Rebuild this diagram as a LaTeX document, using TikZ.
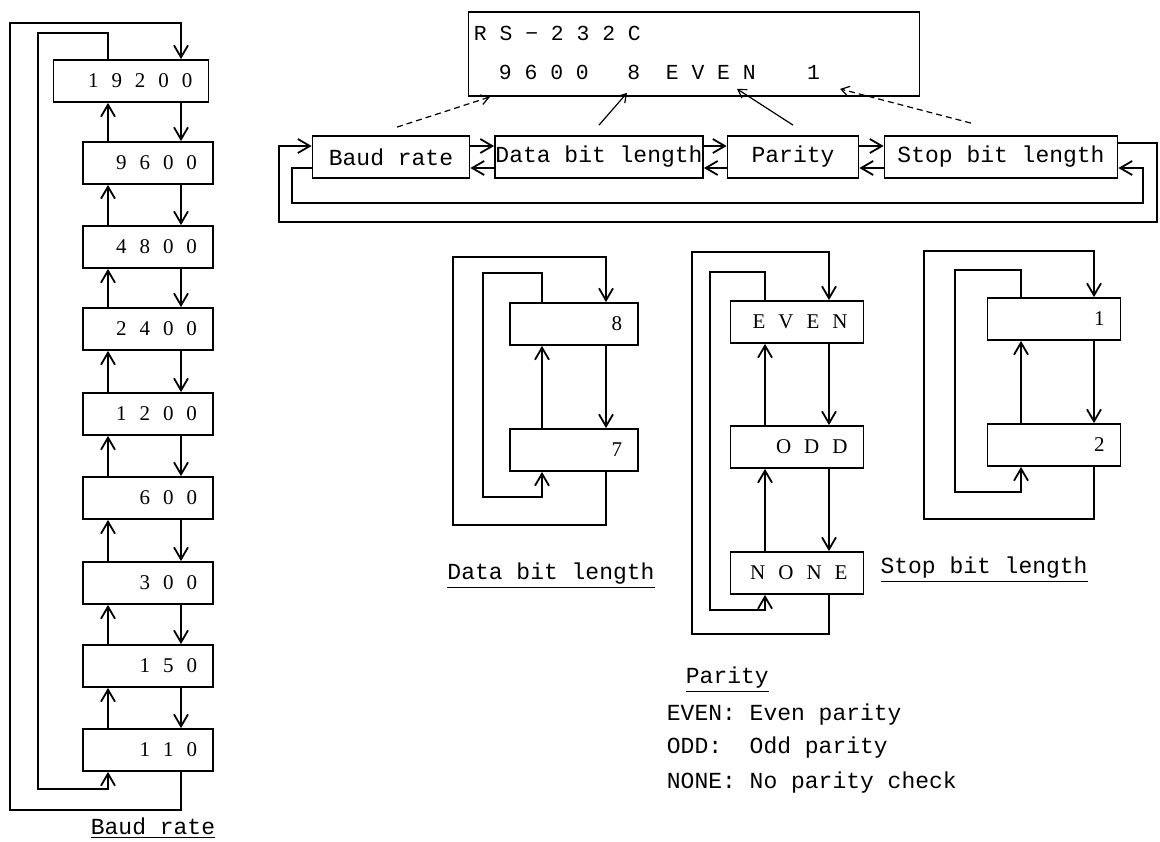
\documentclass[tikz,border=0pt]{standalone}
\usepackage{fontspec}
\newfontfamily\monofont{Liberation Mono}
\newfontfamily\digitfont{Liberation Serif}
\newcommand{\dgap}{\hspace{6.5pt}}
\usetikzlibrary{arrows.meta}

\begin{document}
\begin{tikzpicture}[x=0.5pt, y=-0.5pt, line width=0.9pt,
  every node/.style={font=\monofont\fontsize{11.5}{13}\selectfont},
  cell/.style={draw, minimum height=21pt, inner xsep=8pt, inner ysep=0pt, text width=#1, align=right,
    font={\digitfont\fontsize{10.5}{12}\selectfont}},
  menu/.style={draw, minimum height=21pt, inner sep=0pt, minimum width=#1},
  readout/.style={anchor=west, inner sep=0pt, font=\monofont\fontsize{10.7}{12}\selectfont},
  note/.style={anchor=west, inner sep=0pt},
  arr/.style={-{Straight Barb[length=6pt,width=7pt]}},
  ptr/.style={line width=0.6pt, -{Straight Barb[length=4pt,width=5pt]}}]
\useasboundingbox (0,0) rectangle (1160,841);

% display and setting menu
\node[draw, minimum width=225.5pt, minimum height=42pt] (display) at (694,54) {};
\node[readout] (rs) at (473,33) {R\ S\ −\ 2\ 3\ 2\ C};
\node[readout] (vals) at (498,72) {9\ 6\ 0\ 0\ \ \ 8\ \ E\ V\ E\ N\ \ \ \ 1};
\node[menu=78.5pt] (baud) at (391,157) {Baud rate};
\node[menu=104pt] (data) at (599,157) {Data bit length};
\node[menu=65.5pt] (parity) at (793,157) {Parity};
\node[menu=116.5pt] (stop) at (1001,157) {Stop bit length};
\draw[ptr, densely dashed] ([xshift=3pt,yshift=4pt]baud.north) -- ([xshift=-102pt]display.south);
\draw[ptr] ([yshift=5pt]data.north) -- ([xshift=-33.5pt,yshift=2pt]display.south);
\draw[ptr] ([yshift=5pt]parity.north) -- ([xshift=21.5pt,yshift=4pt]display.south);
\draw[ptr, densely dashed] ([xshift=-15pt,yshift=6pt]stop.north) -- ([xshift=73pt,yshift=4pt]display.south);
\foreach \a/\b in {baud/data,data/parity,parity/stop}{
  \draw[arr] ([yshift=5.5pt]\a.east) -- ([yshift=5.5pt]\b.west);
  \draw[arr] ([yshift=-5.5pt]\b.west) -- ([yshift=-5.5pt]\a.east);
}
\draw[arr] ([yshift=7pt]stop.east) -| (1157,222) -| ([xshift=-16.5pt,yshift=5.5pt]baud.west) -- ([yshift=5.5pt]baud.west);
\draw[arr] ([yshift=-5.5pt]baud.west) -- ++(-20,0) |- (1143,203) |- ([yshift=-5.5pt]stop.east);

% baud rate
\node[cell=61.5pt] (b19200) at (131,81) {1\dgap 9\dgap 2\dgap 0\dgap 0};
\foreach \v/\t/\y in {9600/9\dgap 6\dgap 0\dgap 0/163, 4800/4\dgap 8\dgap 0\dgap 0/247,
                      2400/2\dgap 4\dgap 0\dgap 0/329, 1200/1\dgap 2\dgap 0\dgap 0/414,
                      600/6\dgap 0\dgap 0/498, 300/3\dgap 0\dgap 0/583,
                      150/1\dgap 5\dgap 0/666, 110/1\dgap 1\dgap 0/750}
  \node[cell=49pt] (b\v) at (148,\y) {\t};
\coordinate (bup) at (108,0);
\coordinate (bdn) at (181,0);
\foreach \a/\b in {19200/9600,9600/4800,4800/2400,2400/1200,1200/600,600/300,300/150,150/110}{
  \draw[arr] (b\a.south -| bdn) -- (b\b.north -| bdn);
  \draw[arr] (b\b.north -| bup) -- (b\a.south -| bup);
}
\draw[arr] (b110.south -| bdn) -- ++(0,38) -| (10,23) -| (b19200.north -| bdn);
\draw[arr] (b19200.north -| bup) -- ++(0,-26) -| (38,789) -| (b110.south -| bup);
\node (baudlbl) at (153,828) {\underline{Baud rate}};

% data bit length
\node[cell=48pt] (d8) at (574,324) {8};
\node[cell=48pt] (d7) at (574,450) {7};
\coordinate (dup) at (542,0);
\coordinate (ddn) at (606,0);
\draw[arr] (d8.south -| ddn) -- (d7.north -| ddn);
\draw[arr] (d7.north -| dup) -- (d8.south -| dup);
\draw[arr] (d7.south -| ddn) -- ++(0,53) -| (453,257) -| (d8.north -| ddn);
\draw[arr] (d8.north -| dup) -- ++(0,-29) -| (483,497) -| (d7.south -| dup);
\node (datalbl) at (551,576) {\underline{Data bit length}};

% parity
\node[cell=50.5pt] (peven) at (797,322) {E\dgap V\dgap E\dgap N};
\node[cell=50.5pt] (podd) at (797,447) {O\dgap D\dgap D};
\node[cell=50.5pt] (pnone) at (797,573) {N\dgap O\dgap N\dgap E};
\coordinate (pup) at (765,0);
\coordinate (pdn) at (829,0);
\foreach \a/\b in {peven/podd,podd/pnone}{
  \draw[arr] (\a.south -| pdn) -- (\b.north -| pdn);
  \draw[arr] (\b.north -| pup) -- (\a.south -| pup);
}
\draw[arr] (pnone.south -| pdn) -- ++(0,39) -| (692,252) -| (peven.north -| pdn);
\draw[arr] (peven.north -| pup) -- ++(0,-28) -| (710,610) -| (pnone.south -| pup);

% stop bit length
\node[cell=50.5pt] (s1) at (1054,319) {1};
\node[cell=50.5pt] (s2) at (1054,445) {2};
\coordinate (sup) at (1021,0);
\coordinate (sdn) at (1094,0);
\draw[arr] (s1.south -| sdn) -- (s2.north -| sdn);
\draw[arr] (s2.north -| sup) -- (s1.south -| sup);
\draw[arr] (s2.south -| sdn) -- ++(0,52) -| (924,251) -| (s1.north -| sdn);
\draw[arr] (s1.north -| sup) -- ++(0,-27) -| (955,492) -| (s2.south -| sup);
\node (stoplbl) at (984,570) {\underline{Stop bit length}};

% parity legend
\node[note] (parhead) at (685,680) {\underline{Parity}};
\node[note] (leven) at (666,715) {EVEN: Even parity};
\node[note] (lodd) at (666,748) {ODD:\ \ Odd parity};
\node[note] (lnone) at (666,783) {NONE: No parity check};
\end{tikzpicture}
\end{document}
